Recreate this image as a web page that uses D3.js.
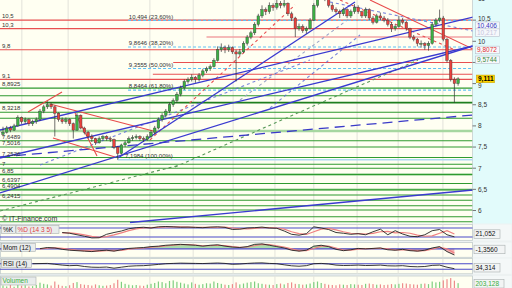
<!DOCTYPE html>
<html><head><meta charset="utf-8">
<script src="https://cdn.jsdelivr.net/npm/d3@7"></script>
<style>body{margin:0;background:#edf2f2;} svg{display:block;font-family:"Liberation Sans",Arial,sans-serif;}</style>
</head><body><svg id="c" width="512" height="288"></svg>
<script>
// ---------- DATA ----------
const opens = [7.80,7.85,7.95,7.90,8.00,8.20,8.10,8.15,8.05,8.10, 8.15,8.35,8.45,8.50,8.45,8.30,8.15,8.10,8.15,8.05,
 7.90,8.25,7.95,7.85,7.75,7.70,7.60,7.70,7.75,7.70, 7.68,7.50,7.35,7.55,7.60,7.70,7.72,7.75,7.70,7.68,
 7.75,7.85,7.95,8.15,8.25,8.35,8.50,8.60,8.75,8.90, 9.05,9.10,9.15,9.10,9.20,9.30,9.35,9.40,9.55,9.80,
 9.85,9.80,9.85,9.75,9.70,9.75,9.95,10.10,10.20,10.40, 10.60,10.75,10.70,10.85,10.80,10.90,10.85,10.90,10.65,10.55,
 10.30,10.35,10.25,10.30,10.50,10.85,11.10,11.30,11.05,10.85, 10.75,10.70,10.65,10.75,10.60,10.70,10.80,10.70,10.60,10.75,
 10.55,10.45,10.60,10.55,10.50,10.40,10.30,10.35,10.50,10.45, 10.30,10.10,10.05,9.95,9.95,9.90,9.95,10.40,10.50,10.55,
 10.05,9.55,9.10,9.00];
const highs = [7.98,8.00,8.00,8.05,8.25,8.22,8.20,8.18,8.15,8.20, 8.40,8.50,8.58,8.55,8.48,8.32,8.20,8.20,8.18,8.08,
 8.30,8.27,7.98,7.88,7.80,7.72,7.75,7.78,7.78,7.75, 7.70,7.52,7.58,7.65,7.75,7.78,7.80,7.78,7.75,7.80,
 7.90,8.00,8.20,8.30,8.40,8.55,8.65,8.80,8.95,9.10, 9.15,9.22,9.18,9.25,9.35,9.40,9.45,9.60,9.88,9.95,
 9.90,9.92,9.88,9.80,9.82,10.00,10.15,10.25,10.45,10.65, 10.85,10.80,10.92,10.90,10.98,10.95,10.98,10.92,10.70,10.58,
 10.42,10.40,10.35,10.55,10.90,11.25,11.51,11.40,11.10,10.90, 10.80,10.75,10.80,10.78,10.75,10.88,10.85,10.72,10.80,10.78,
 10.60,10.65,10.68,10.60,10.55,10.45,10.40,10.60,10.55,10.48, 10.32,10.15,10.08,10.02,9.98,10.00,10.45,10.55,10.75,10.60,
 10.08,9.58,9.15,9.15];
const lows = [7.75,7.82,7.85,7.88,7.98,8.05,8.05,8.00,8.00,8.05, 8.12,8.30,8.40,8.40,7.75,8.10,8.05,8.05,8.00,7.70,
 7.88,7.92,7.80,7.70,7.62,7.55,7.58,7.65,7.65,7.62, 7.45,7.1984,7.32,7.50,7.58,7.65,7.68,7.65,7.62,7.65,
 7.72,7.80,7.92,8.10,8.20,8.30,8.45,8.55,8.70,8.85, 9.00,9.05,9.02,9.05,9.15,9.25,9.30,9.38,9.52,9.75,
 9.72,9.75,9.70,9.05,9.65,9.72,9.90,10.05,10.15,10.35, 10.55,10.62,10.65,10.72,10.75,10.78,10.80,10.60,10.48,10.10,
 10.25,10.20,10.18,10.28,10.48,10.80,11.00,10.95,10.80,10.70, 10.65,10.55,10.60,10.55,10.55,10.65,10.65,10.55,10.55,10.50,
 10.40,10.42,10.50,10.45,10.35,10.22,10.25,10.32,10.40,10.25, 10.05,10.00,9.88,9.85,9.80,9.78,9.92,10.35,10.45,10.00,
 9.50,9.05,8.55,8.95];
const closes = [7.85,7.95,7.90,8.00,8.20,8.10,8.15,8.05,8.10,8.15, 8.35,8.45,8.50,8.45,8.30,8.15,8.10,8.15,8.05,7.90,
 8.25,7.95,7.85,7.75,7.70,7.60,7.70,7.75,7.70,7.68, 7.50,7.35,7.55,7.60,7.70,7.72,7.75,7.70,7.68,7.75,
 7.85,7.95,8.15,8.25,8.35,8.50,8.60,8.75,8.90,9.05, 9.10,9.15,9.10,9.20,9.30,9.35,9.40,9.55,9.80,9.85,
 9.80,9.85,9.75,9.70,9.75,9.95,10.10,10.20,10.40,10.60, 10.75,10.70,10.85,10.80,10.90,10.85,10.90,10.65,10.55,10.30,
 10.35,10.25,10.30,10.50,10.85,11.10,11.30,11.05,10.85,10.75, 10.70,10.65,10.75,10.60,10.70,10.80,10.70,10.60,10.75,10.55,
 10.45,10.60,10.55,10.50,10.40,10.30,10.35,10.50,10.45,10.30, 10.10,10.05,9.95,9.95,9.90,9.95,10.40,10.50,10.55,10.05,
 9.55,9.10,9.00,9.111];
const volumes = [120,90,150,80,200,110,130,90,100,140, 220,180,160,120,260,150,110,100,130,210,
 240,170,150,140,120,160,130,110,120,140, 200,320,250,180,150,130,140,120,110,150,
 180,210,260,240,200,280,300,250,220,190, 160,230,180,150,170,200,190,260,210,180,
 150,140,170,230,160,190,220,240,260,200, 180,160,150,140,170,190,160,210,230,180,
 170,150,160,190,240,260,210,180,150,140, 130,160,150,140,170,160,150,140,180,190,
 170,150,160,140,150,170,160,180,200,190, 170,160,150,180,190,170,260,230,250,300,
 340,380,290,203];
// month grid positions (candle index)
const gridIdx = [5.1,17.6,39.7,51.4,62.2,73.5,84,95.7,106.8,118.9];
// y axis ticks (9,5 is hidden behind a value box in the reference)
const yTicks = [11,10.5,10,9.5,9,8.5,8,7.5,7,6.5,6];
const yTickShown = [11,10.5,10,9,8.5,8,7.5,7,6.5,6];
// horizontal levels
const redFull = [10.5,10.3,9.8,9.1];
const redPartVals = [9.5,9.22]; const redPartStart = [46,40.5];
const pinkVal = 10.1, pinkStart = 55;
const greenLabeled = [8.8925,8.3218,7.6489,7.5016,7.2526,7,6.85,6.6397,6.4904,6.2415];
const greenLabels = ["8,8925","8,3218","7,6489","7,5016","7,2526","7","6,85","6,6397","6,4904","6,2415"];
const greenOther = [8.714,8.18,7.092,6.366,6.113,6.012,5.853,5.735];
const greenLight = [7.879,6.85,6.4904];
const greenThick = [8.548];
const redLabels = ["10,5","10,3","9,8","9,1"];
const fibVals = [10.494,9.8646,9.3555,8.8464,7.1984];
const fibLabels = ["10,494 (23,60%)","9,8646 (38,20%)","9,3555 (50,00%)","8,8464 (61,80%)","7,1984 (100,00%)"];
const fibLabelIdx = [34,34,34,34,33];
const fibStart = 33.8, fib100Start = 31;
// trend lines [i1,p1,i2,p2]
const blueSolid = [[-0.81,7.903,127.03,10.574],[-0.81,7.241,127.03,9.889],[-0.81,6.414,127.03,9.889],[31.08,7.241,95.14,10.929],[34.32,5.716,127.03,6.485]];
const blueLongDash = [[-0.81,7.265,127.03,8.258]];
const blueDashed = [[10,7.076,82.97,9.558],[72.16,8.423,96.49,10.149],[88.38,10.929,127.03,10.243]];
const grayDashed = [[64.05,8.612,93.78,10.551]];
const redSolid = [[6.76,8.329,15.95,8.801],[12.70,8.518,41.62,7.856],[13.51,7.714,30.27,7.265],[19.46,8.305,25.41,7.288],[99.19,10.976,127.03,9.818]];
const redDashed = [[39.73,7.667,78.92,10.858],[91.08,10.976,122.16,9.794]];
const greenDashed = [[-0.81,5.988,47.84,7.076],[46.49,7.028,112.16,9.557]];
// right value boxes
const boxVals = [10.406,10.217,9.8072,9.5744,9.111];
const boxTexts = ["10,406","10,217","9,8072","9,5744","9,111"];
const boxColors = ["#3535c0","#c4c4dc","#e03030","#3a8a3a","#000"];
// indicators (every 2nd candle from index 8)
const kVals = [null,null,null,null,50,45,35,25,14,15,38,50,60,75,82,85,80,88,90,88,85,86,84,82,86,88,84,70,72,80,82,86,80,78,60,38,32,42,88,80,70,50,45,38,42,35,55,72,35,62,40,25,22,35,62,70,35,21.05];
const dVals = [null,null,null,null,48,47,42,34,24,18,22,34,48,62,74,81,82,84,87,88,87,86,85,84,84,85,86,80,75,74,78,82,82,80,72,55,42,37,55,72,78,68,55,45,42,40,44,55,58,48,50,45,32,25,28,45,62,40];
const momVals = [null,0.05,0.3,0.2,-0.1,-0.3,-0.4,-0.5,-0.6,-0.4,-0.3,-0.5,-0.2,0.1,0.2,0.3,0.5,0.6,0.8,0.9,1.0,0.9,0.8,0.6,0.8,0.9,0.6,0.4,0.3,0.5,1.0,1.1,0.8,0.5,0.2,-0.3,-0.5,-0.3,0.6,0.8,0.5,-0.1,-0.4,-0.2,0.1,0.0,0.1,0.2,-0.2,-0.3,-0.1,-0.4,-0.5,-0.3,0.2,0.5,-0.6,-1.356];
const momSig = [null,0.0,0.15,0.25,0.1,-0.1,-0.3,-0.4,-0.5,-0.5,-0.4,-0.4,-0.35,-0.1,0.1,0.2,0.35,0.5,0.65,0.8,0.9,0.95,0.85,0.7,0.7,0.8,0.75,0.5,0.35,0.4,0.7,1.0,0.95,0.7,0.4,0.0,-0.4,-0.4,0.1,0.6,0.65,0.2,-0.25,-0.3,-0.05,0.05,0.05,0.15,0.0,-0.25,-0.2,-0.25,-0.45,-0.4,-0.05,0.35,0.0,-0.9];
const rsiVals = [70,71,72,66,60,56,58,50,45,44,46,38,45,52,55,56,60,65,70,72,74,73,72,71,73,75,72,66,68,72,75,76,72,70,62,55,52,56,70,72,68,60,57,58,60,57,58,60,55,54,56,50,48,50,58,60,45,34.314];

// ---------- DRAW ----------
const W=512,H=288,PR=472.5,PB=223.5;
const svg=d3.select('#c');
const x=d3.scaleLinear().domain([0,123]).range([3,458.1]);
const y=d3.scaleLinear().domain([6,10]).range([210.5,41.3]);
const fmt=v=>String(v).replace('.',',');
svg.append('rect').attr('width',W).attr('height',H).attr('fill','#edf2f2');
const defs=svg.append('defs');
defs.append('clipPath').attr('id','mc').append('rect').attr('x',0).attr('y',0).attr('width',PR).attr('height',PB);
svg.append('rect').attr('x',0).attr('y',0).attr('width',PR).attr('height',PB).attr('fill','#fffff2');
svg.append('rect').attr('x',PR).attr('y',0).attr('width',W-PR).attr('height',PB).attr('fill','#e2fbfb');
svg.append('line').attr('x1',PR).attr('x2',PR).attr('y1',0).attr('y2',PB).attr('stroke','#cfd8d8');
const g=svg.append('g').attr('clip-path','url(#mc)');
// grid
g.selectAll('line.gv').data(gridIdx).join('line').attr('x1',d=>x(d)).attr('x2',d=>x(d)).attr('y1',0).attr('y2',PB).attr('stroke','#e2e2da').attr('stroke-width',1);
// horizontal levels
const hline=(vals,opt)=>g.append('g').selectAll('line').data(vals).join('line')
  .attr('x1',(d,i)=>opt.start?x(opt.start[i]):0).attr('x2',PR).attr('y1',d=>y(d)).attr('y2',d=>y(d))
  .attr('stroke',opt.c).attr('stroke-width',opt.w||1).attr('stroke-dasharray',opt.dash||null);
hline(greenLight,{c:'#a6d7a0',w:2.4});
hline(greenOther,{c:'#2f9a2f',w:1.1});
hline(greenLabeled,{c:'#2f9a2f',w:1.1});
hline(greenThick,{c:'#1f7f1f',w:1.8});
hline([pinkVal],{c:'#f2a3a3',w:1.6,start:[pinkStart]});
hline(redFull,{c:'#e85050',w:1.1});
hline(redPartVals,{c:'#e85050',w:1.1,start:redPartStart});
hline(fibVals.slice(0,4),{c:'#5ec2f5',w:1.1,dash:'3,2',start:[fibStart,fibStart,fibStart,fibStart]});
hline([fibVals[4]],{c:'#a9d9f2',w:1.4,start:[fib100Start]});
// trend lines
const tl=(arr,c,w,dash,op)=>g.append('g').selectAll('line').data(arr).join('line')
  .attr('x1',d=>x(d[0])).attr('y1',d=>y(d[1])).attr('x2',d=>x(d[2])).attr('y2',d=>y(d[3]))
  .attr('stroke',c).attr('stroke-width',w).attr('stroke-dasharray',dash).attr('opacity',op||1);
tl(greenDashed,'#5a9a5a',1.1,'3,3');
tl(grayDashed,'#9aa4c8',1.1,'3,3');
tl(blueDashed,'#5a6ad8',1.1,'3,3',0.8);
tl(blueLongDash,'#3a3ac8',1.3,'10,6');
tl(redDashed,'#e85050',1.1,'3,3');
tl(redSolid,'#e84a4a',1.1,null);
tl(blueSolid,'#3a3ad0',1.3,null);
// candles
const candles=d3.range(opens.length).map(i=>({i,o:opens[i],h:highs[i],l:lows[i],c:closes[i]}));
g.append('g').selectAll('line').data(candles).join('line').attr('x1',d=>x(d.i)).attr('x2',d=>x(d.i))
 .attr('y1',d=>y(d.h)).attr('y2',d=>y(d.l)).attr('stroke','#333').attr('stroke-width',0.7);
g.append('g').selectAll('rect').data(candles).join('rect').attr('x',d=>x(d.i)-1.3).attr('width',2.6)
 .attr('y',d=>y(Math.max(d.o,d.c))).attr('height',d=>Math.max(0.8,Math.abs(y(d.o)-y(d.c))))
 .attr('fill',d=>d.c>=d.o?'#3cb043':'#e8413c').attr('stroke','#3a3a3a').attr('stroke-width',0.4);
// left labels
const lab=svg.append('g').attr('font-size',6).attr('fill','#333');
lab.selectAll('text.r').data(redFull).join('text').attr('x',2).attr('y',d=>y(d)-1.8).text((d,i)=>redLabels[i]);
lab.selectAll('text.g').data(greenLabeled).join('text').attr('x',2).attr('y',d=>y(d)-1.8).text((d,i)=>greenLabels[i]);
lab.selectAll('text.f').data(fibVals).join('text').attr('x',(d,i)=>x(fibLabelIdx[i])).attr('y',d=>y(d)-1.8).text((d,i)=>fibLabels[i]);
svg.append('text').attr('x',2).attr('y',221).attr('font-size',7).attr('fill','#333').text('© IT-Finance.com');
// right axis
const ax=svg.append('g');
ax.selectAll('line').data(yTicks).join('line').attr('x1',PR).attr('x2',PR+3.5).attr('y1',d=>y(d)).attr('y2',d=>y(d)).attr('stroke','#777');
ax.selectAll('text').data(yTickShown).join('text').attr('x',PR+5.5)
  .attr('y',d=>y(d)+(d===10.5?1:(d===9?4.6:2.3))).attr('font-size',6.5).attr('fill','#333').text(d=>fmt(d));
const bx=svg.append('g');
boxVals.forEach((v,i)=>{
  const yy=y(v);const last=i===4;
  const top=i===0?yy-2.2:(last?yy-3.8:yy-3.3);
  bx.append('rect').attr('x',last?476.5:475.5).attr('y',top).attr('width',last?18:24).attr('height',7.6)
    .attr('fill',last?'#ffd400':'#f6f8fb').attr('stroke',last?'#c9a400':'#b8c0cc').attr('stroke-width',0.6);
  bx.append('text').attr('x',last?478:477).attr('y',top+5.8).attr('font-size',6.5).attr('fill',boxColors[i]).attr('font-weight',last?'bold':null).text(boxTexts[i]);
});
// ---------- PANELS ----------
const panels=[{y0:224.5,h:16},{y0:242.5,h:14.8},{y0:258.5,h:15.3},{y0:276,h:13}];
panels.forEach((p,k)=>{
  defs.append('clipPath').attr('id','pc'+k).append('rect').attr('x',0).attr('y',p.y0).attr('width',PR).attr('height',p.h);
  svg.append('rect').attr('x',0.5).attr('y',p.y0).attr('width',PR-0.5).attr('height',p.h).attr('fill','#fffff1').attr('stroke','#c2cccc').attr('stroke-width',0.8);
  svg.append('rect').attr('x',PR+0.5).attr('y',p.y0).attr('width',W-PR-1).attr('height',p.h).attr('fill','#f4f8f8');
  svg.append('g').attr('clip-path','url(#pc'+k+')').selectAll('line').data(gridIdx).join('line')
    .attr('x1',d=>x(d)).attr('x2',d=>x(d)).attr('y1',p.y0).attr('y2',p.y0+p.h).attr('stroke','#e4e4dc');
});
const ii=d3.range(8,123,2);
const kY=d3.scaleLinear().domain([0,100]).range([240,225]);
const mY=d3.scaleLinear().domain([-1.8,1.3]).range([257,243]);
const rY=d3.scaleLinear().domain([0,100]).range([273.5,259.5]);
const vY=d3.scaleLinear().domain([0,400]).range([289,277.5]);
const hl=(val,sc)=>svg.append('line').attr('x1',0).attr('x2',PR).attr('y1',sc(val)).attr('y2',sc(val)).attr('stroke','#4a4ac8').attr('stroke-width',1.1);
const pl=(vals,sc,c,w)=>svg.append('path').datum(ii.map((v,j)=>[v,vals[j]])).attr('fill','none').attr('stroke',c).attr('stroke-width',w)
  .attr('d',d3.line().defined(d=>d[1]!=null).x(d=>x(d[0])).y(d=>sc(d[1])));
// %K %D
hl(80,kY);hl(20,kY);
pl(dVals,kY,'#f08080',1.2);pl(kVals,kY,'#222',0.9);
// Mom
defs.append('clipPath').attr('id','mup').append('rect').attr('x',0).attr('y',240).attr('width',PR).attr('height',mY(0)-240);
defs.append('clipPath').attr('id','mdn').append('rect').attr('x',0).attr('y',mY(0)).attr('width',PR).attr('height',260-mY(0));
const mArea=d3.area().defined(d=>d[1]!=null).x(d=>x(d[0])).y0(mY(0)).y1(d=>mY(d[1]));
const mData=ii.map((v,j)=>[v,momVals[j]]);
svg.append('path').datum(mData).attr('d',mArea).attr('fill','#a9dca9').attr('clip-path','url(#mup)');
svg.append('path').datum(mData).attr('d',mArea).attr('fill','#f1b3b3').attr('clip-path','url(#mdn)');
hl(0,mY);
pl(momSig,mY,'#f08080',1.1);pl(momVals,mY,'#222',0.9);
// RSI
hl(70,rY);hl(30,rY);
pl(rsiVals,rY,'#222',0.9);
// Volume
svg.append('g').attr('clip-path','url(#pc3)').selectAll('rect').data(candles).join('rect')
  .attr('x',d=>x(d.i)-0.6).attr('width',1.2).attr('y',d=>vY(volumes[d.i])).attr('height',d=>vY(0)-vY(volumes[d.i]))
  .attr('fill',d=>d.c>=d.o?'#7fcf7f':'#ee8c8c');
// panel labels
const tag=(xx,yy,w,txt,c)=>{svg.append('rect').attr('x',xx).attr('y',yy).attr('width',w).attr('height',8).attr('fill','#e9ecec').attr('stroke','#a8b0b0').attr('stroke-width',0.6);
  svg.append('text').attr('x',xx+1.5).attr('y',yy+6.3).attr('font-size',6.5).attr('fill',c).text(txt);};
tag(1.5,225.5,14,'%K','#111');tag(16,225.5,43,'%D (14 3 5)','#e04040');
tag(1.5,243.3,34,'Mom (12)','#111');tag(1.5,259.3,30,'RSI (14)','#111');tag(1,277,35,'Volumen','#3cae3c');
const rtag=(yy,w,txt,c)=>{svg.append('rect').attr('x',474).attr('y',yy).attr('width',w).attr('height',8.5).attr('fill','#f2f4f4').attr('stroke','#a8b0b0').attr('stroke-width',0.6);
  svg.append('text').attr('x',475.5).attr('y',yy+6.6).attr('font-size',6.5).attr('fill',c).text(txt);};
rtag(229.8,26,'21,052','#111');rtag(245.2,31,'-1,3560','#111');rtag(263.5,26,'34,314','#111');rtag(279.5,30,'203,128','#3cae3c');
</script></body></html>
